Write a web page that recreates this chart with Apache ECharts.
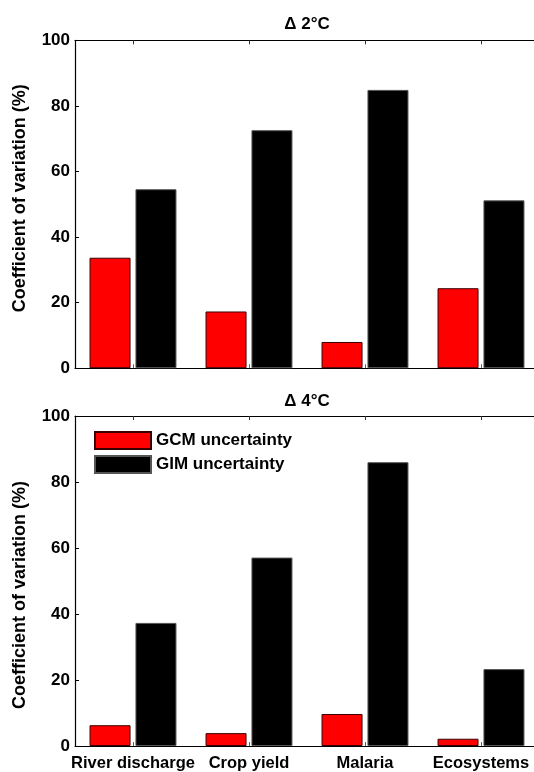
<!DOCTYPE html>
<html>
<head>
<meta charset="utf-8">
<script src="https://cdn.jsdelivr.net/npm/echarts@6/dist/echarts.min.js"></script>
<style>
html,body{margin:0;padding:0;background:#fff;overflow:hidden;width:534px;height:772px;}
#chart{width:545px;height:772px;}
</style>
</head>
<body>
<div id="chart"></div>
<script>
const categories = ['River discharge', 'Crop yield', 'Malaria', 'Ecosystems'];
const seriesNames = ['GCM uncertainty', 'GIM uncertainty'];
const panelTitles = ['\u0394 2\u00b0C', '\u0394 4\u00b0C'];
const gcm2C = [33.7, 17.3, 8.0, 24.4];
const gim2C = [54.6, 72.6, 84.9, 51.2];
const gcm4C = [6.3, 3.9, 9.7, 2.2];
const gim4C = [37.3, 57.1, 86.0, 23.3];
const yTicks = { min: 0, max: 100, interval: 20 };
const yName = 'Coefficient of variation (%)';

const FONT = '"Liberation Sans", Arial, Helvetica, sans-serif';
const chart = echarts.init(document.getElementById('chart'), null, { renderer: 'canvas' });

const grids = [
  { left: 75, top: 40.4, width: 464, height: 327.8 },
  { left: 75, top: 416, width: 464, height: 330.7 }
];

function xAxes(gi, showLabels) {
  return [
    {
      type: 'category', gridIndex: gi, data: categories, position: 'bottom',
      axisLine: { show: true, lineStyle: { color: '#000', width: 1.2 } },
      axisTick: { show: true, inside: true, length: 4, alignWithLabel: true, lineStyle: { color: '#666' } },
      axisLabel: { show: showLabels, color: '#000', fontFamily: FONT, fontWeight: 'bold', fontSize: 16.5, margin: 9, interval: 0 },
      splitLine: { show: false }
    },
    {
      type: 'category', gridIndex: gi, data: categories, position: 'top',
      axisLine: { show: true, lineStyle: { color: '#000', width: 1.2 } },
      axisTick: { show: true, inside: true, length: 4, alignWithLabel: true, lineStyle: { color: '#333' } },
      axisLabel: { show: false },
      splitLine: { show: false }
    }
  ];
}

function yAxis(gi, pad) {
  return {
    type: 'value', gridIndex: gi, min: yTicks.min, max: yTicks.max, interval: yTicks.interval,
    name: yName, nameLocation: 'middle', nameGap: 46,
    nameTextStyle: { color: '#000', fontFamily: FONT, fontWeight: 'bold', fontSize: 18, padding: pad },
    axisLine: { show: true, lineStyle: { color: '#000', width: 1.2 } },
    axisTick: { show: true, inside: true, length: 4, lineStyle: { color: '#000' } },
    axisLabel: { color: '#000', fontFamily: FONT, fontWeight: 'bold', fontSize: 17, margin: 5 },
    splitLine: { show: false }
  };
}

function barSeries(name, data, xi, yi, color, border) {
  return {
    name: name, type: 'bar', xAxisIndex: xi, yAxisIndex: yi, data: data,
    barWidth: 41, barGap: '12%',
    itemStyle: { color: color, borderColor: border, borderWidth: 1 },
    emphasis: { disabled: true }, animation: false
  };
}

const option = {
  animation: false,
  backgroundColor: '#fff',
  title: panelTitles.map((t, i) => ({
    text: t, left: 302, textAlign: 'center', top: i === 0 ? 11 : 388,
    textStyle: { color: '#000', fontFamily: FONT, fontWeight: 'bold', fontSize: 17 }
  })),
  legend: {
    data: seriesNames.map(n => ({ name: n, icon: 'rect' })), orient: 'vertical', left: 94, top: 431, padding: 0,
    itemWidth: 56, itemHeight: 17, itemGap: 5,
    textStyle: { color: '#000', fontFamily: FONT, fontWeight: 'bold', fontSize: 17 },
    selectedMode: false
  },
  grid: grids,
  xAxis: [...xAxes(0, false), ...xAxes(1, true)],
  yAxis: [yAxis(0, [0, 0, 0, 12]), yAxis(1, [0, 28, 0, 0])],
  series: [
    barSeries(seriesNames[0], gcm2C, 0, 0, '#ff0000', '#3a0000'),
    barSeries(seriesNames[1], gim2C, 0, 0, '#000000', '#555'),
    barSeries(seriesNames[0], gcm4C, 2, 1, '#ff0000', '#3a0000'),
    barSeries(seriesNames[1], gim4C, 2, 1, '#000000', '#555')
  ]
};
chart.setOption(option);
</script>
</body>
</html>
